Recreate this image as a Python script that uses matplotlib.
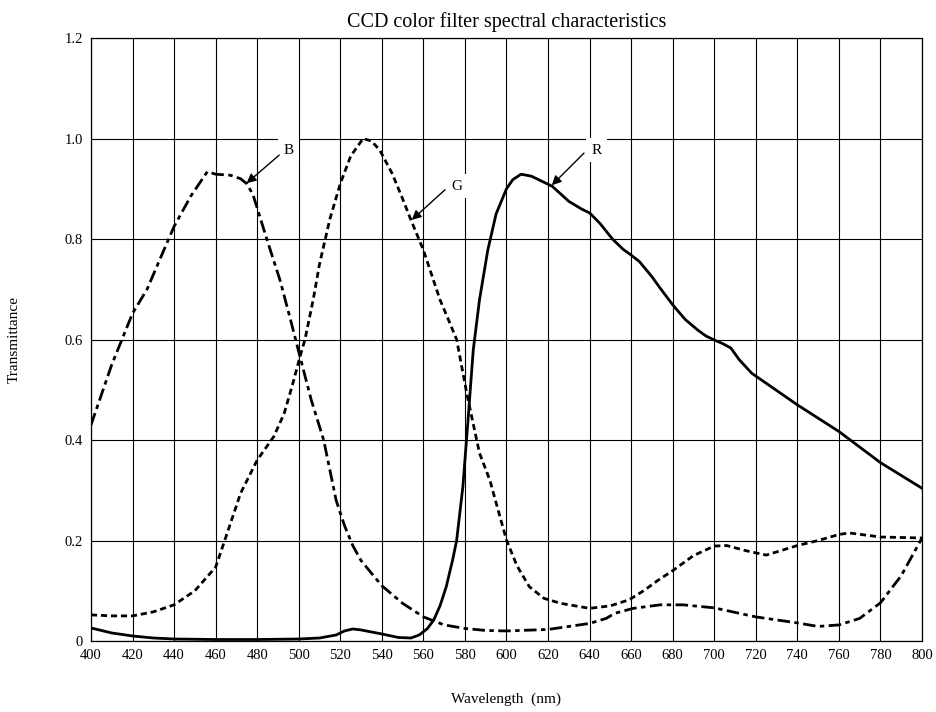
"""
CCD color filter spectral characteristics: R, G, B transmittance curves.
Writes out.png (937x712).
"""
import matplotlib
matplotlib.use("Agg")
import matplotlib.pyplot as plt
import numpy as np

plt.rcParams["font.family"] = ["Liberation Serif", "DejaVu Serif"]

# --- data ----------------------------------------------------------------
blue_wl = [400, 410, 420, 427, 433, 440, 448, 456, 460, 467, 472, 475, 478, 485,
           491, 496, 500.6, 506, 512, 518, 522, 526, 530, 540, 550, 560, 570, 580,
           590, 600, 620, 640, 648, 652, 661, 674, 685, 700, 720, 740, 750, 760,
           770, 780, 790, 800]
blue_t = [0.43, 0.55, 0.652, 0.70, 0.758, 0.825, 0.885, 0.934, 0.929, 0.927, 0.92,
          0.91, 0.888, 0.795, 0.718, 0.64, 0.566, 0.48, 0.40, 0.28, 0.23, 0.19,
          0.16, 0.11, 0.075, 0.048, 0.032, 0.025, 0.021, 0.02, 0.023, 0.035, 0.045,
          0.055, 0.065, 0.072, 0.072, 0.066, 0.048, 0.036, 0.029, 0.032, 0.045,
          0.076, 0.13, 0.205]

green_wl = [400, 410, 420, 430, 440, 450, 460, 466, 472, 480, 488, 493, 497, 500.6,
            503, 507, 510, 515, 520, 525, 531, 535, 539, 545, 550, 554, 560, 568,
            572, 576, 581, 587, 592, 596, 600, 605, 611, 618, 626, 640, 650, 659,
            666, 673, 680, 690, 700, 706, 715, 725, 740, 750, 760, 765, 780, 790, 800]
green_t = [0.052, 0.05, 0.05, 0.058, 0.072, 0.10, 0.147, 0.22, 0.294, 0.36, 0.407,
           0.453, 0.51, 0.566, 0.60, 0.68, 0.75, 0.84, 0.91, 0.965, 1.0, 0.995,
           0.977, 0.93, 0.88, 0.838, 0.778, 0.679, 0.64, 0.60, 0.49, 0.374, 0.32,
           0.26, 0.201, 0.15, 0.108, 0.085, 0.075, 0.065, 0.07, 0.082, 0.10, 0.121,
           0.14, 0.17, 0.189, 0.19, 0.18, 0.171, 0.19, 0.20, 0.212, 0.215, 0.207,
           0.206, 0.205]

red_wl = [400, 410, 420, 430, 440, 460, 480, 500, 510, 518, 522, 526, 530, 540, 548,
          554, 558, 562, 565, 568, 571, 574, 576, 579, 581.6, 584, 587, 591, 595,
          600, 603, 607, 612, 617, 622, 630, 636, 640, 645, 651, 656, 660, 664, 670,
          674, 680, 686, 692, 696, 700, 704, 708, 712, 718, 740, 760, 780, 800]
red_t = [0.026, 0.016, 0.01, 0.006, 0.004, 0.003, 0.003, 0.004, 0.006, 0.012, 0.02,
         0.024, 0.022, 0.014, 0.007, 0.006, 0.012, 0.025, 0.042, 0.07, 0.108, 0.16,
         0.2, 0.307, 0.446, 0.579, 0.679, 0.778, 0.85, 0.9, 0.918, 0.929, 0.925,
         0.915, 0.905, 0.875, 0.86, 0.852, 0.831, 0.80, 0.78, 0.768, 0.755, 0.725,
         0.702, 0.669, 0.64, 0.619, 0.607, 0.599, 0.592, 0.583, 0.56, 0.533, 0.47,
         0.417, 0.355, 0.304]

x_ticks = np.arange(400, 801, 20)
y_ticks = [0, 0.2, 0.4, 0.6, 0.8, 1.0, 1.2]
y_labels = ["0", "0.2", "0.4", "0.6", "0.8", "1.0", "1.2"]

# label text position, arrow tail, arrow tip (data coords)
labels = [
    ("B", (495.0, 0.977), (490.6, 0.967), (474.9, 0.911)),
    ("G", (576.3, 0.905), (570.4, 0.898), (554.4, 0.838)),
    ("R", (643.4, 0.977), (637.3, 0.971), (621.8, 0.907)),
]

# --- figure -----------------------------------------------------------------
fig = plt.figure(figsize=(9.37, 7.12), dpi=100)
ax = fig.add_axes([0.0971, 0.0997, 0.8869, 0.8469])

line_kw = dict(color="black", lw=2.0, zorder=3, solid_joinstyle="round",
               dash_joinstyle="round")
ax.plot(blue_wl, blue_t, ls=(0, (4.5, 1.6, 1.6, 1.6)), **line_kw)
ax.plot(green_wl, green_t, ls=(0, (2.2, 1.4)), **line_kw)
ax.plot(red_wl, red_t, ls="-", **line_kw)

ax.set_xlim(400, 800)
ax.set_ylim(0, 1.2)
ax.set_xticks(x_ticks)
ax.set_yticks(y_ticks, y_labels)
ax.tick_params(length=0, labelsize=10.5, pad=6)
ax.grid(True, color="black", lw=0.8)
ax.set_axisbelow(True)
for s in ax.spines.values():
    s.set_linewidth(0.9)

for name, txt, tail, tip in labels:
    ax.text(*txt, name, ha="center", va="center", fontsize=11, zorder=4,
            bbox=dict(facecolor="white", edgecolor="none", pad=4))
    ax.annotate("", xy=tip, xytext=tail, zorder=4,
                arrowprops=dict(arrowstyle="-|>", color="black", lw=1.0,
                                mutation_scale=14, shrinkA=0, shrinkB=0))

ax.set_title("CCD color filter spectral characteristics", fontsize=14.5, pad=8)
ax.set_xlabel("Wavelength  (nm)", fontsize=11, labelpad=22)
ax.set_ylabel("Transmittance", fontsize=11, labelpad=31)

fig.savefig("out.png", dpi=100)
